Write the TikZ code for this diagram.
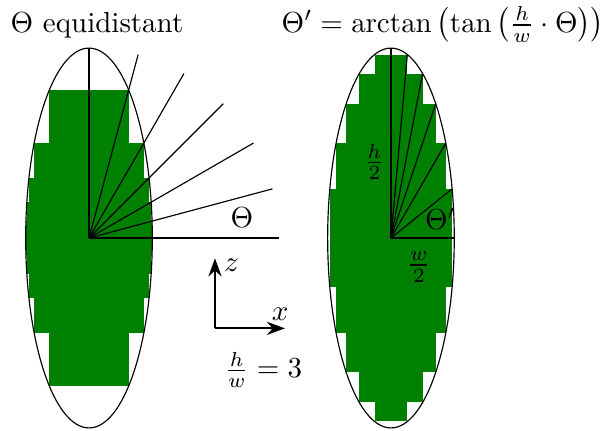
\documentclass[tikz,border=0pt]{standalone}
\usepackage{amsmath}
\usepackage{xcolor}
\usetikzlibrary{arrows.meta,calc}
\definecolor{cellgreen}{RGB}{0,128,0}
\tikzset{
  cell/.style  = {fill=cellgreen},
  rim/.style   = {draw=black, line width=0.4pt},
  ray/.style   = {draw=black, line width=0.4pt},
  axis/.style  = {-{Stealth[length=2.2mm,width=1.6mm]}, semithick},
  lbl/.style   = {inner sep=0pt},
  ttl/.style   = {inner sep=0pt, anchor=base west},
}

\begin{document}
\begin{tikzpicture}[x=0.767cm, y=0.767cm]
  \useasboundingbox (-1.406,-3.033) rectangle (8.104,3.760);

  % ---------------- titles ----------------
  \node[ttl] (tleft) at (-1.246,3.25) {$\Theta$ equidistant};
  \node[ttl] (tright) at (3.035,3.25) {$\Theta' = \arctan\,\bigl(\tan\,\bigl(\frac{h}{w}\cdot\Theta\bigr)\bigr)$};

  % ---------------- left ellipse, equidistant angles ----------------
  \coordinate (cl) at (0,0);
  \foreach \a in {0,15,...,60} {
    \pgfmathsetmacro\ta{atan2(sin(\a),3*cos(\a))}
    \pgfmathsetmacro\tb{atan2(sin(\a+15),3*cos(\a+15))}
    \fill[cell] ({-cos(\tb)},{3*sin(\ta)}) rectangle ({cos(\tb)},{3*sin(\tb)});
    \fill[cell] ({-cos(\tb)},{-3*sin(\ta)}) rectangle ({cos(\tb)},{-3*sin(\tb)});
  }
  \draw[rim] (cl) ellipse [x radius=1, y radius=3];
  \foreach \a in {0,15,...,90}
    \draw[ray] (cl) -- ++(\a:3);
  \node[lbl] (thl) at (2.417,0.316) {$\Theta$};

  % ---------------- right ellipse, corrected angles ----------------
  \coordinate (cr) at (4.77,0);
  \begin{scope}[shift={(cr)}]
    \foreach \a in {0,15,...,60} {
      \fill[cell] ({-cos(\a+15)},{3*sin(\a)}) rectangle ({cos(\a+15)},{3*sin(\a+15)});
      \fill[cell] ({-cos(\a+15)},{-3*sin(\a)}) rectangle ({cos(\a+15)},{-3*sin(\a+15)});
    }
    \draw[rim] (0,0) ellipse [x radius=1, y radius=3];
    \foreach \a in {0,15,...,90}
      \draw[ray] (0,0) -- ({cos(\a)},{3*sin(\a)});
  \end{scope}
  \node[lbl] (hh) at (4.51,1.205) {$\frac{h}{2}$};
  \node[lbl] (thr) at (5.553,0.30) {$\Theta'$};
  \node[lbl] (wh) at (5.21,-0.46) {$\frac{w}{2}$};

  % ---------------- axes and ratio ----------------
  \coordinate (ax) at (1.99,-1.427);
  \coordinate (az) at (1.99,-0.321);
  \coordinate (axx) at (3.096,-1.427);
  \draw[axis] (ax) -- (az);
  \draw[axis] (ax) -- (axx);
  \node[lbl] (zl) at (2.25,-0.427) {$z$};
  \node[lbl] (xl) at (3.02,-1.20) {$x$};
  \node[lbl] (ratio) at (2.754,-2.085) {$\frac{h}{w} = 3$};
\end{tikzpicture}
\end{document}
